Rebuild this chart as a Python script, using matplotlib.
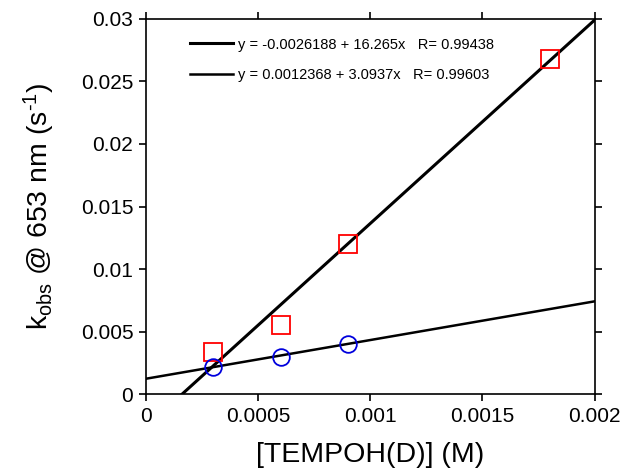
import numpy as np
import matplotlib
matplotlib.use("Agg")
import matplotlib.pyplot as plt

plt.rcParams["font.family"] = ["Liberation Sans", "DejaVu Sans"]
plt.rcParams["mathtext.fontset"] = "custom"
plt.rcParams["mathtext.rm"] = "Liberation Sans"
plt.rcParams["mathtext.it"] = "Liberation Sans:italic"

# TEMPOH data (red squares) and TEMPOD data (blue circles)
x_h = [0.0003, 0.0006, 0.0009, 0.0018]
k_h = [0.0034, 0.0055, 0.0120, 0.0268]
x_d = [0.0003, 0.0006, 0.0009]
k_d = [0.0022, 0.0030, 0.0040]

# linear fit coefficients as printed in the legend
fit_h = (-0.0026188, 16.265, 0.99438)
fit_d = (0.0012368, 3.0937, 0.99603)

x_ticks = [0, 0.0005, 0.001, 0.0015, 0.002]
x_tick_labels = ["0", "0.0005", "0.001", "0.0015", "0.002"]
y_ticks = [0, 0.005, 0.01, 0.015, 0.02, 0.025, 0.03]
y_tick_labels = ["0", "0.005", "0.01", "0.015", "0.02", "0.025", "0.03"]

fig = plt.figure(figsize=(6.26, 4.71), dpi=100)
ax = fig.add_axes([0.233, 0.163, 0.717, 0.797])

xs = np.linspace(0, 0.002, 200)
lh, = ax.plot(xs, fit_h[0] + fit_h[1] * xs, color="black", lw=2.2,
              label=f"y = {fit_h[0]} + {fit_h[1]}x   R= {fit_h[2]}")
ld, = ax.plot(xs, fit_d[0] + fit_d[1] * xs, color="black", lw=1.8,
              label=f"y = {fit_d[0]} + {fit_d[1]}x   R= {fit_d[2]}")

ax.plot(x_h, k_h, "s", ms=13, mfc="none", mec="#ff0000", mew=1.3, zorder=3)
ax.plot(x_d, k_d, "o", ms=12, mfc="none", mec="#0000dd", mew=1.3, zorder=3)

ax.set_xlim(0, 0.002)
ax.set_ylim(0, 0.03)
ax.set_xticks(x_ticks)
ax.set_xticklabels(x_tick_labels)
ax.set_yticks(y_ticks)
ax.set_yticklabels(y_tick_labels)
ax.tick_params(direction="out", length=5, width=1.2, labelsize=15,
               top=True, right=True, pad=4)
for sp in ax.spines.values():
    sp.set_linewidth(1.2)

ax.set_xlabel("[TEMPOH(D)] (M)", fontsize=20.5, labelpad=12)
ax.set_ylabel(r"k$_{\mathrm{obs}}$ @ 653 nm (s$^{\text{-1}}$)", fontsize=20.5, labelpad=17)

ax.legend(handles=[lh, ld], loc="upper left", bbox_to_anchor=(0.069, 0.985),
          frameon=False, fontsize=10.5, handlelength=2.95, handletextpad=0.35,
          labelspacing=1.1)

fig.savefig("out.png", dpi=100)
